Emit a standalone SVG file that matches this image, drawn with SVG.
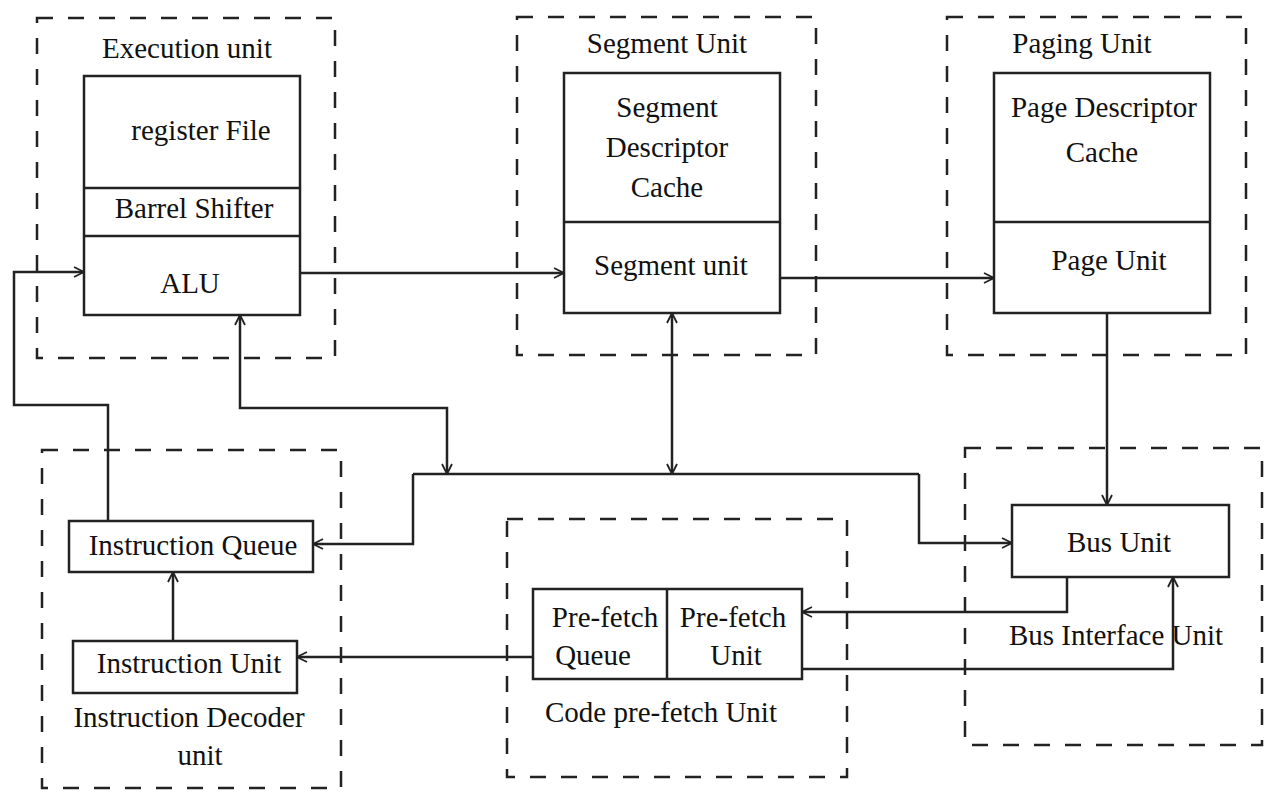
<svg xmlns="http://www.w3.org/2000/svg" width="1265" height="792" viewBox="0 0 1265 792">
<style>
text{font-family:"Liberation Serif","Times New Roman",serif;font-size:29px;fill:#111;text-anchor:middle}
.grp{fill:none;stroke:#222;stroke-width:2.5;stroke-dasharray:16 15}
.box{fill:none;stroke:#222;stroke-width:2.5}
.ln{fill:none;stroke:#222;stroke-width:2.5}
.ar{marker-end:url(#ah)}
</style>
<defs>
<marker id="ah" viewBox="0 0 12 12" refX="11" refY="6" markerWidth="12" markerHeight="12" markerUnits="userSpaceOnUse" orient="auto-start-reverse">
<path d="M1,1 L11,6 L1,11" fill="none" stroke="#222" stroke-width="1.8"/>
</marker>
</defs>
<rect width="1265" height="792" fill="#fff"/>

<g id="execution-unit">
<rect class="grp" x="37" y="18" width="298" height="340"/>
<text x="187" y="58">Execution unit</text>
<rect class="box" x="84" y="76" width="216" height="239"/>
<line class="ln" x1="84" y1="188" x2="300" y2="188"/>
<line class="ln" x1="84" y1="236" x2="300" y2="236"/>
<text x="201" y="140">register File</text>
<text x="194" y="218">Barrel Shifter</text>
<text x="190" y="293">ALU</text>
</g>

<g id="segment-unit">
<rect class="grp" x="517" y="17" width="299" height="338"/>
<text x="667" y="53">Segment Unit</text>
<rect class="box" x="564" y="73" width="216" height="240"/>
<line class="ln" x1="564" y1="222" x2="780" y2="222"/>
<text x="667" y="117">Segment</text>
<text x="667" y="157">Descriptor</text>
<text x="667" y="197">Cache</text>
<text x="671" y="275">Segment unit</text>
</g>

<g id="paging-unit">
<rect class="grp" x="947" y="17" width="299" height="338"/>
<text x="1082" y="53">Paging Unit</text>
<rect class="box" x="994" y="73" width="216" height="240"/>
<line class="ln" x1="994" y1="222" x2="1210" y2="222"/>
<text x="1104" y="117">Page Descriptor</text>
<text x="1102" y="162">Cache</text>
<text x="1109" y="270">Page Unit</text>
</g>

<g id="instruction-decoder-unit">
<rect class="grp" x="42" y="450" width="299" height="338"/>
<rect class="box" x="69" y="521" width="244" height="51"/>
<text x="193" y="555">Instruction Queue</text>
<rect class="box" x="73" y="641" width="224" height="52"/>
<text x="189" y="673">Instruction Unit</text>
<text x="189" y="727">Instruction Decoder</text>
<text x="200" y="765">unit</text>
</g>

<g id="code-prefetch-unit">
<rect class="grp" x="507" y="519" width="340" height="258"/>
<rect class="box" x="533" y="589" width="269" height="90"/>
<line class="ln" x1="667" y1="589" x2="667" y2="679"/>
<text x="605" y="627">Pre-fetch</text>
<text x="593" y="665">Queue</text>
<text x="733" y="627">Pre-fetch</text>
<text x="736" y="665">Unit</text>
<text x="661" y="722">Code pre-fetch Unit</text>
</g>

<g id="bus-interface-unit">
<rect class="grp" x="965" y="448" width="297" height="297"/>
<rect class="box" x="1012" y="505" width="217" height="72"/>
<text x="1119" y="552">Bus Unit</text>
<text x="1116" y="645">Bus Interface Unit</text>
</g>

<g id="connectors">
<polyline class="ln ar" points="300,273 564,273"/>
<polyline class="ln ar" points="780,278 994,278"/>
<polyline class="ln ar" points="1107,313 1107,505"/>
<polyline class="ln ar" points="108,521 108,405 14,405 14,272 84,272"/>
<polyline class="ln ar" points="173,641 173,572"/>
<line class="ln" x1="413" y1="474" x2="919" y2="474"/>
<polyline class="ln ar" points="413,474 413,544 313,544"/>
<polyline class="ln ar" points="919,474 919,543 1012,543"/>
<path class="ln" d="M240,315 L240,408 L447,408 L447,474" marker-start="url(#ah)" marker-end="url(#ah)"/>
<path class="ln" d="M672,313 L672,474" marker-start="url(#ah)" marker-end="url(#ah)"/>
<polyline class="ln ar" points="533,657 297,657"/>
<polyline class="ln ar" points="1067,577 1067,612 802,612"/>
<polyline class="ln ar" points="802,669 1173,669 1173,577"/>
</g>
</svg>
